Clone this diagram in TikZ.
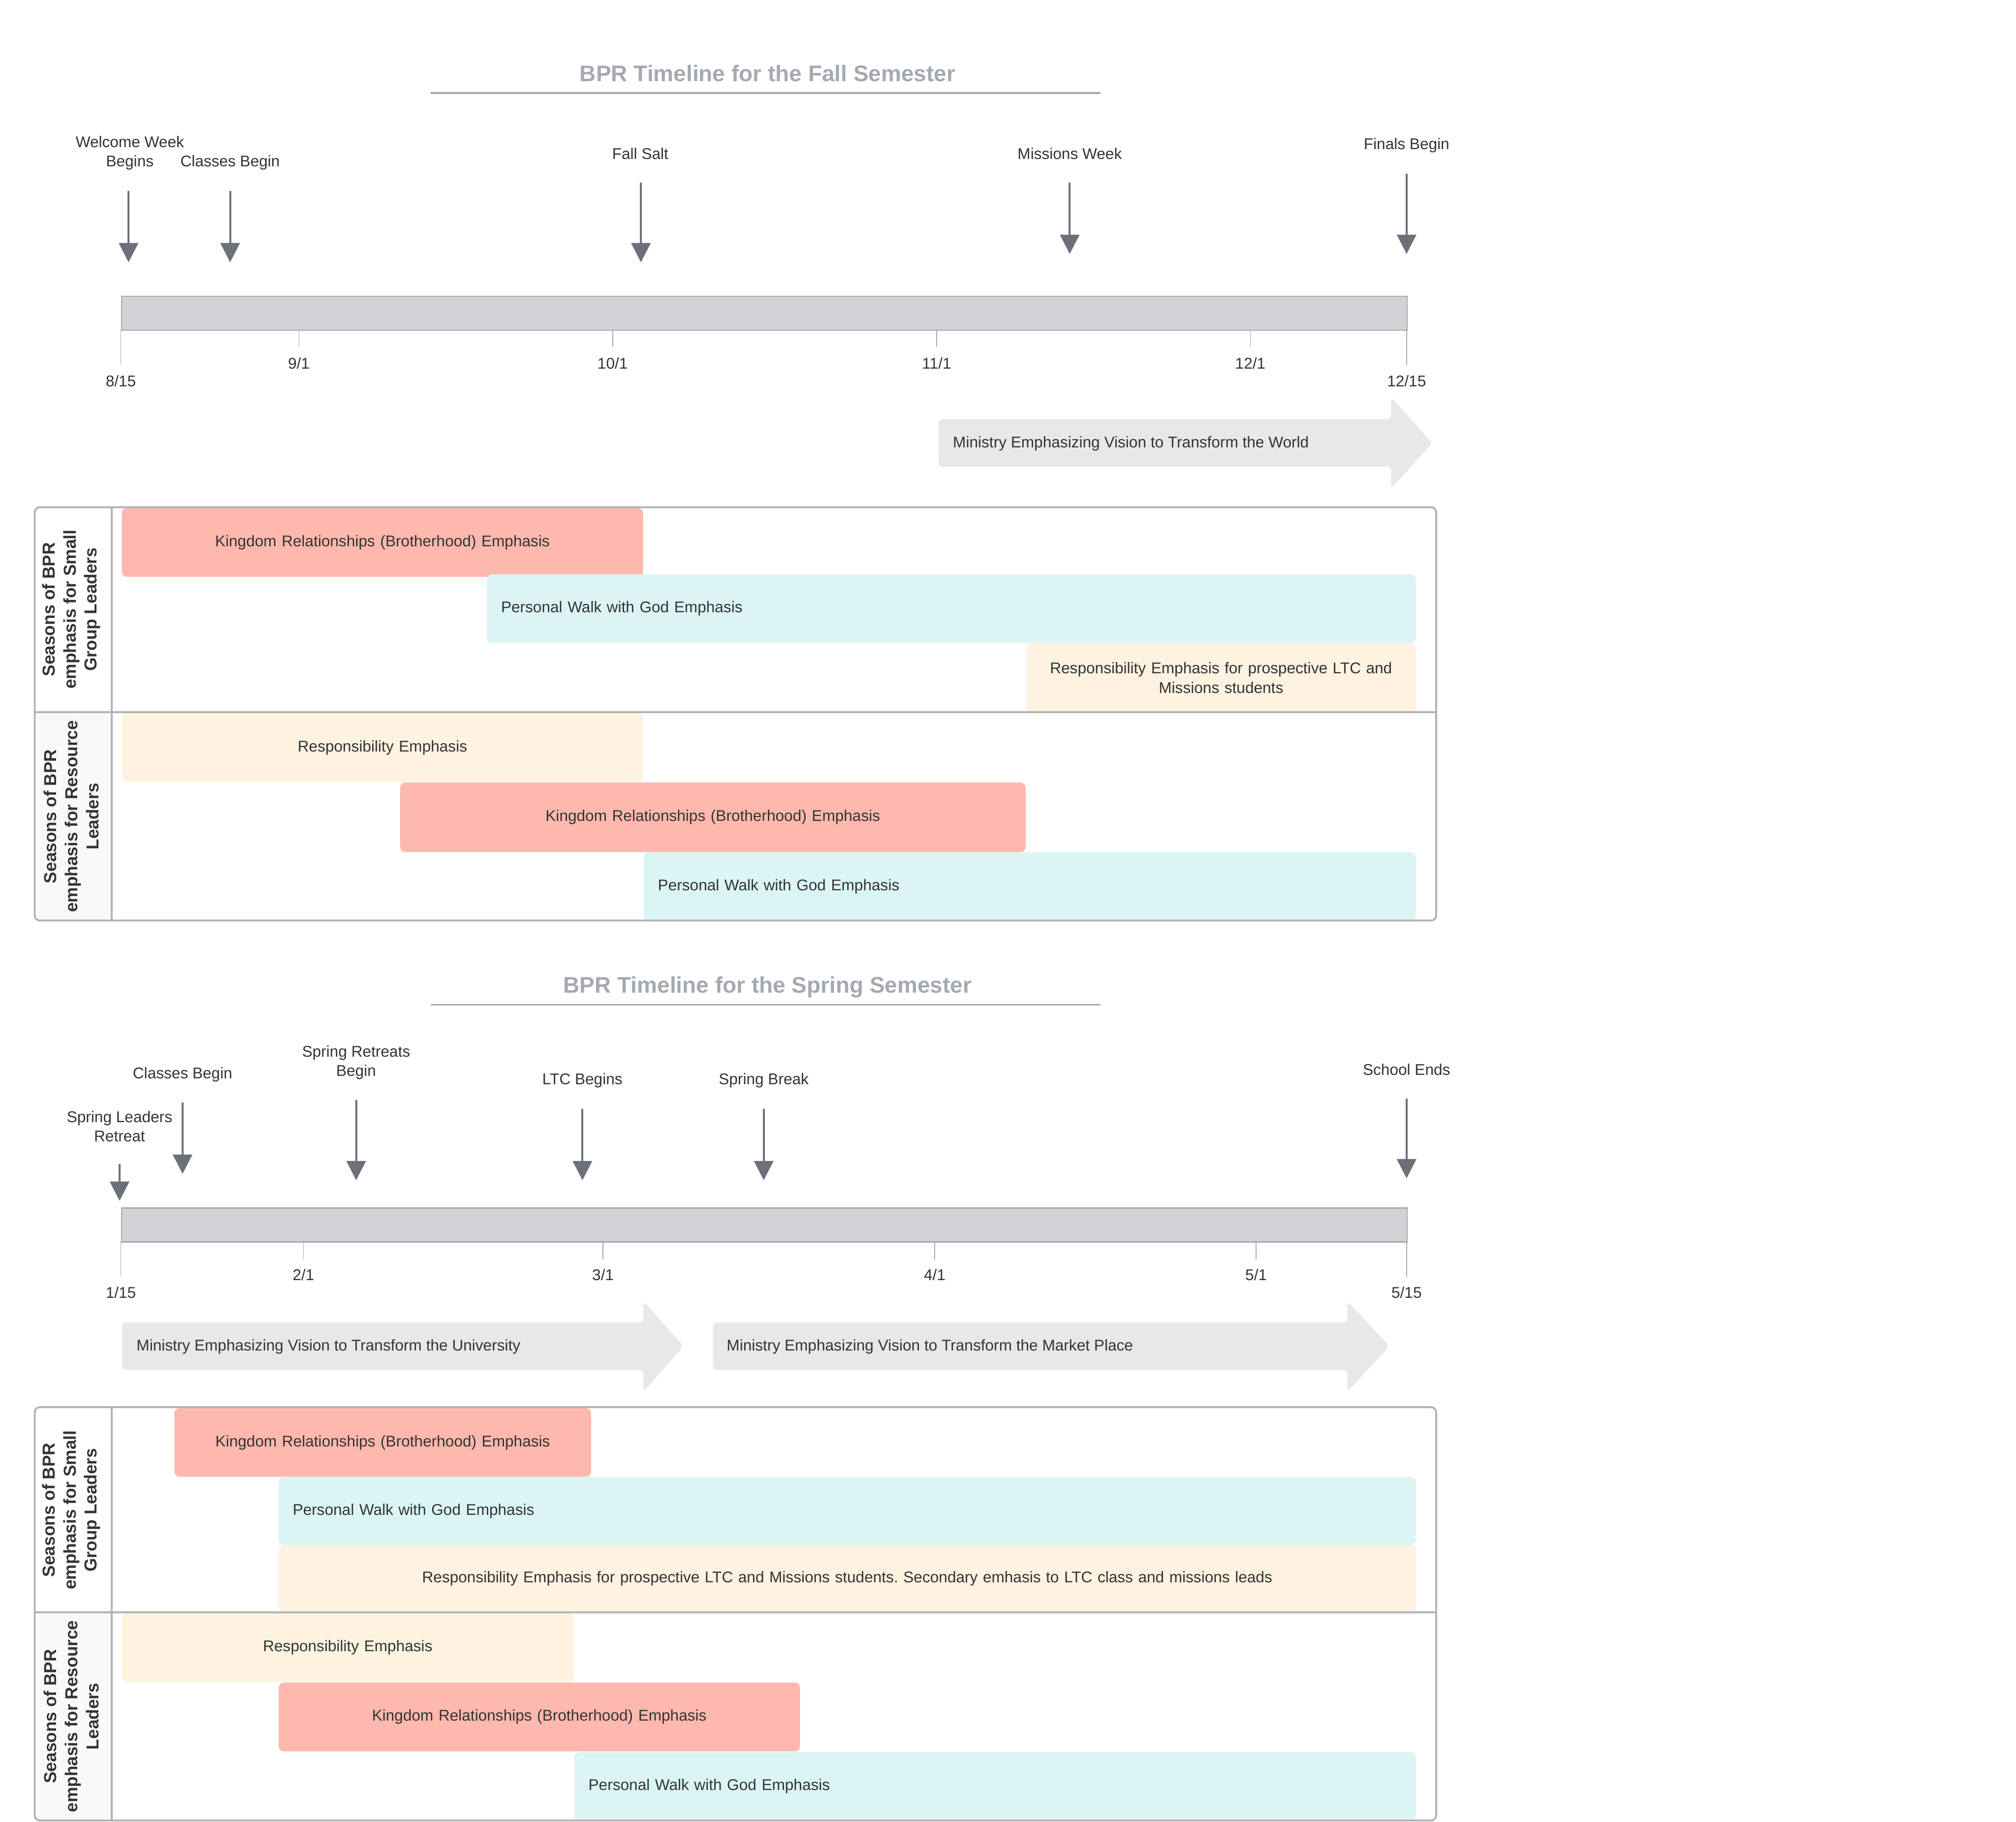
\documentclass[tikz,border=0pt]{standalone}
\usepackage{fontspec}
\setmainfont{Liberation Sans}
\usetikzlibrary{arrows.meta}
\frenchspacing
\definecolor{txtc}{HTML}{333333}
\definecolor{ttlc}{HTML}{A4A9B2}
\definecolor{arrc}{HTML}{6C7079}
\definecolor{tbarc}{HTML}{D1D3D6}
\definecolor{tbordc}{HTML}{A9A9A9}
\definecolor{salmonc}{HTML}{FFB8AD}
\definecolor{cyanc}{HTML}{DBF5F5}
\definecolor{creamc}{HTML}{FEF2E1}
\definecolor{mgrayc}{HTML}{E8E8E8}
\definecolor{lanec}{HTML}{B3B3B3}
\definecolor{hdrc}{HTML}{F9F9F9}
\tikzset{
  lbl/.style={inner sep=0pt, align=center, text=txtc, font=\fontsize{12.1pt}{15pt}\selectfont},
  ttl/.style={inner sep=0pt, anchor=base, text=ttlc, font=\bfseries\fontsize{17.6pt}{20pt}\selectfont},
  ttlline/.style={draw=ttlc, line width=1.5pt},
  evarrow/.style={draw=arrc, line width=1.5pt, -{Triangle[length=15pt,width=15pt]}, fill=arrc},
  tickline/.style={draw=tbordc, line width=0.6pt},
  tbar/.style={draw=tbordc, fill=tbarc, line width=0.8pt, inner sep=0pt, anchor=north west, minimum height=26.5pt},
  seasonbar/.style={inner sep=0pt, rounded corners=4pt, anchor=north west, text=txtc, font=\fontsize{12.1pt}{15pt}\selectfont},
  hdrtext/.style={rotate=90, align=center, inner sep=0pt, font=\bfseries\fontsize{13.5pt}{16.4pt}\selectfont, text=txtc},
  mblock/.style={fill=mgrayc, rounded corners=3pt},
  frameline/.style={draw=lanec, line width=1.5pt},
}
% name, x1, y1, x2, y2, colour, alignment, text
\newcommand\sbar[8]{%
  \node[seasonbar, fill=#6, minimum width=\dimexpr #4pt-#2pt\relax, minimum height=\dimexpr #5pt-#3pt\relax,
        inner xsep=11pt, text width=\dimexpr #4pt-#2pt-22pt\relax, align=#7] (#1) at (#2,#3) {#8};}
\begin{document}
\begin{tikzpicture}[x=1pt,y=-1pt]
\useasboundingbox (0,0) rectangle (1568,1417);

%================ FALL =================
\node[ttl] (ftitle) at (597,63.3) {BPR Timeline for the Fall Semester};
\coordinate (ful1) at (335,72.5); \coordinate (ful2) at (856,72.5);
\draw[ttlline] (ful1) -- (ful2);

% events
\node[lbl] (fe1) at (101,119) {Welcome Week\\Begins};
\node[lbl] (fe2) at (179,126.3) {Classes Begin};
\node[lbl] (fe3) at (498,119.5) {Fall Salt};
\node[lbl] (fe4) at (832,119.5) {Missions Week};
\node[lbl] (fe5) at (1094,113) {Finals Begin};
\coordinate (fe1s) at (100,148.5); \coordinate (fe1e) at (100,204);
\coordinate (fe2s) at (179,148.5); \coordinate (fe2e) at (179,204);
\coordinate (fe3s) at (498.5,142); \coordinate (fe3e) at (498.5,204);
\coordinate (fe4s) at (832,142); \coordinate (fe4e) at (832,197.5);
\coordinate (fe5s) at (1094,135); \coordinate (fe5e) at (1094,197.5);
\foreach \e in {fe1,fe2,fe3,fe4,fe5} \draw[evarrow] (\e s) -- (\e e);

% timeline bar
\node[tbar, minimum width=1000pt] (fbar) at (94,230) {};
\draw[tickline] (94,256.5) -- (94,284);
\draw[tickline] (232.5,256.5) -- (232.5,270);
\draw[tickline] (476.5,256.5) -- (476.5,270);
\draw[tickline] (728.5,256.5) -- (728.5,270);
\draw[tickline] (972.5,256.5) -- (972.5,270);
\draw[tickline] (1094,256.5) -- (1094,284);
\node[lbl] (fd1) at (94,296.5) {8/15};
\node[lbl] (fd2) at (232.5,282.5) {9/1};
\node[lbl] (fd3) at (476.5,282.5) {10/1};
\node[lbl] (fd4) at (728.5,282.5) {11/1};
\node[lbl] (fd5) at (972.5,282.5) {12/1};
\node[lbl] (fd6) at (1094,296.5) {12/15};

% ministry arrow
\fill[mblock] (730,326) -- (1082,326) -- (1082,309) -- (1114,344.5) -- (1082,380) -- (1082,363) -- (730,363) -- cycle;
\node[lbl, anchor=west] (fm1) at (741,345) {Ministry Emphasizing Vision to Transform the World};

% swimlanes
\fill[hdrc] (27.5,554) rectangle (87,715.5);
\sbar{fa1}{94.5}{395}{500}{448.5}{salmonc}{center}{Kingdom Relationships (Brotherhood) Emphasis}
\sbar{fa2}{378.5}{446.5}{1101}{500}{cyanc}{left}{Personal Walk with God Emphasis}
\sbar{fa3}{798}{500}{1101}{554}{creamc}{center}{Responsibility Emphasis for prospective LTC and\\Missions students}
\sbar{fb1}{94.5}{554.5}{500}{608}{creamc}{center}{Responsibility Emphasis}
\sbar{fb2}{311}{608.5}{797.5}{662.5}{salmonc}{center}{Kingdom Relationships (Brotherhood) Emphasis}
\sbar{fb3}{500.5}{662.5}{1101}{716}{cyanc}{left}{Personal Walk with God Emphasis}
\draw[frameline, rounded corners=4pt] (27,394.5) rectangle (1117,716);
\draw[frameline] (87,394.5) -- (87,716);
\draw[frameline] (27,554) -- (1117,554);
\node[hdrtext] (fh1) at (55.5,474) {Seasons of BPR\\emphasis for Small\\Group Leaders};
\node[hdrtext] (fh2) at (55.5,635) {Seasons of BPR\\emphasis for Resource\\Leaders};

%================ SPRING =================
\node[ttl] (stitle) at (597,772.3) {BPR Timeline for the Spring Semester};
\coordinate (sul1) at (335,781.5); \coordinate (sul2) at (856,781.5);
\draw[ttlline] (sul1) -- (sul2);

\node[lbl] (se1) at (93,876) {Spring Leaders\\Retreat};
\node[lbl] (se2) at (142,835.6) {Classes Begin};
\node[lbl] (se3) at (277,826.5) {Spring Retreats\\Begin};
\node[lbl] (se4) at (453,840.3) {LTC Begins};
\node[lbl] (se5) at (594,840.5) {Spring Break};
\node[lbl] (se6) at (1094,832) {School Ends};
\coordinate (se1s) at (93,905.5); \coordinate (se1e) at (93,934);
\coordinate (se2s) at (142,857.5); \coordinate (se2e) at (142,913);
\coordinate (se3s) at (277,855.5); \coordinate (se3e) at (277,918);
\coordinate (se4s) at (453,862.5); \coordinate (se4e) at (453,918);
\coordinate (se5s) at (594,862.5); \coordinate (se5e) at (594,918);
\coordinate (se6s) at (1094,854.5); \coordinate (se6e) at (1094,916.5);
\foreach \e in {se1,se2,se3,se4,se5,se6} \draw[evarrow] (\e s) -- (\e e);

\node[tbar, minimum width=1000pt, line width=1pt] (sbarline) at (94,939) {};
\draw[tickline] (94,965.5) -- (94,993);
\draw[tickline] (236,965.5) -- (236,979.5);
\draw[tickline] (469,965.5) -- (469,979.5);
\draw[tickline] (727,965.5) -- (727,979.5);
\draw[tickline] (977,965.5) -- (977,979.5);
\draw[tickline] (1094,965.5) -- (1094,993);
\node[lbl] (sd1) at (94,1005.5) {1/15};
\node[lbl] (sd2) at (236,991.7) {2/1};
\node[lbl] (sd3) at (469,991.7) {3/1};
\node[lbl] (sd4) at (727,991.7) {4/1};
\node[lbl] (sd5) at (977,991.7) {5/1};
\node[lbl] (sd6) at (1094,1005.5) {5/15};

\fill[mblock] (95,1028.5) -- (500.5,1028.5) -- (500.5,1012) -- (531.5,1047) -- (500.5,1082.5) -- (500.5,1065.5) -- (95,1065.5) -- cycle;
\node[lbl, anchor=west] (sm1) at (106,1047.3) {Ministry Emphasizing Vision to Transform the University};
\fill[mblock] (554.5,1028.5) -- (1048,1028.5) -- (1048,1012) -- (1080.5,1047) -- (1048,1082.5) -- (1048,1065.5) -- (554.5,1065.5) -- cycle;
\node[lbl, anchor=west] (sm2) at (565,1047.3) {Ministry Emphasizing Vision to Transform the Market Place};

\fill[hdrc] (27.5,1254) rectangle (87,1416);
\sbar{sa1}{135.5}{1095}{459.5}{1148.5}{salmonc}{center}{Kingdom Relationships (Brotherhood) Emphasis}
\sbar{sa2}{216.5}{1148.5}{1101}{1201.5}{cyanc}{left}{Personal Walk with God Emphasis}
\sbar{sa3}{216.5}{1201.5}{1101}{1254}{creamc}{center}{Responsibility Emphasis for prospective LTC and Missions students. Secondary emhasis to LTC class and missions leads}
\sbar{sb1}{94.5}{1254.5}{446}{1308}{creamc}{center}{Responsibility Emphasis}
\sbar{sb2}{216.5}{1308.5}{622}{1362}{salmonc}{center}{Kingdom Relationships (Brotherhood) Emphasis}
\sbar{sb3}{446.5}{1362.5}{1101}{1416}{cyanc}{left}{Personal Walk with God Emphasis}
\draw[frameline, rounded corners=4pt] (27,1094.5) rectangle (1117,1416);
\draw[frameline] (87,1094.5) -- (87,1416);
\draw[frameline] (27,1254) -- (1117,1254);
\node[hdrtext] (sh1) at (55.5,1174.5) {Seasons of BPR\\emphasis for Small\\Group Leaders};
\node[hdrtext] (sh2) at (55.5,1335) {Seasons of BPR\\emphasis for Resource\\Leaders};
\end{tikzpicture}
\end{document}
